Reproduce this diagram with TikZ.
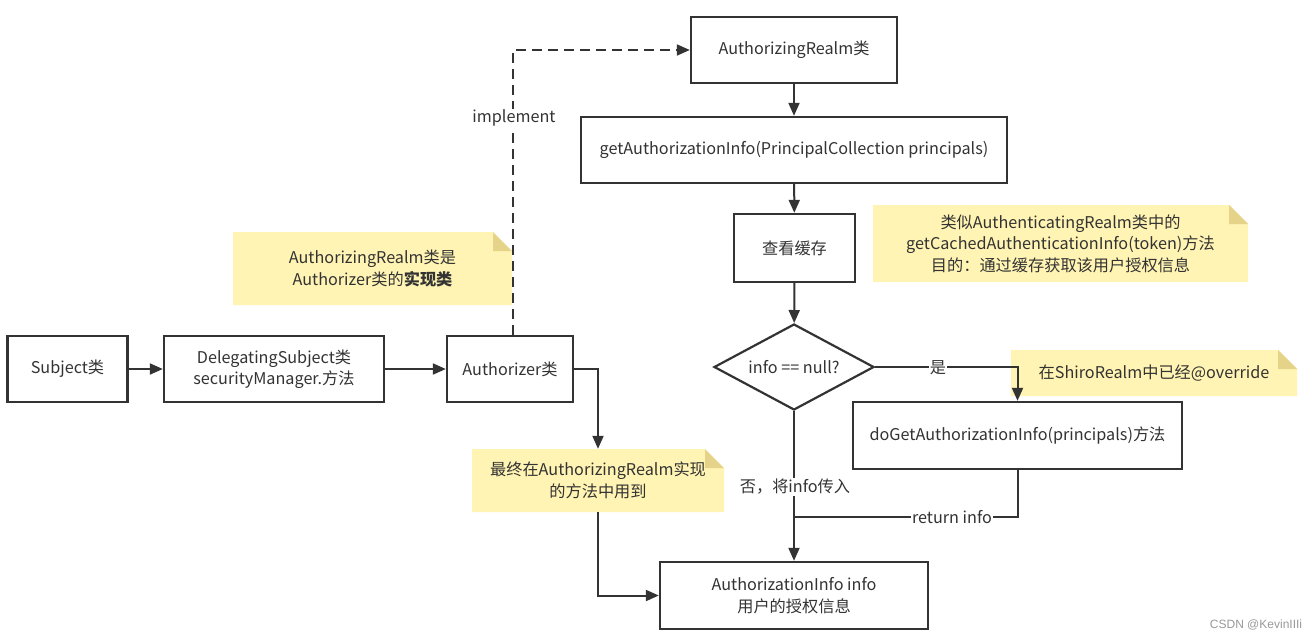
\documentclass[tikz,border=0pt]{standalone}
\usepackage{fontspec}
\setmainfont{Noto Sans CJK SC}
\newfontfamily\wmfont{Liberation Sans}
\usetikzlibrary{arrows.meta,shapes.geometric}
\definecolor{lc}{HTML}{333333}
\definecolor{tc}{HTML}{333333}
\definecolor{notefill}{HTML}{FFF4B3}
\definecolor{notefold}{HTML}{E6D38A}
\begin{document}
\begin{tikzpicture}[x=1pt,y=-1pt,
  every node/.style={font=\fontsize{16.2}{21.5}\selectfont, text=tc},
  box/.style={draw=lc, line width=2.4pt, fill=white, align=center, inner sep=0pt},
  note/.style={rectangle, inner sep=0pt, align=center,
    path picture={
      \fill[notefill] (path picture bounding box.south west) -- (path picture bounding box.north west)
        -- ([xshift=-19pt]path picture bounding box.north east) -- ([yshift=-19pt]path picture bounding box.north east)
        -- (path picture bounding box.south east) -- cycle;
      \fill[notefold] ([xshift=-19pt]path picture bounding box.north east) -- ([xshift=-19pt,yshift=-19pt]path picture bounding box.north east)
        -- ([yshift=-19pt]path picture bounding box.north east) -- cycle;
    }},
  conn/.style={draw=lc, line width=2pt, -{Triangle[length=13pt,width=11pt]}},
  plain/.style={draw=lc, line width=2pt},
  lbl/.style={fill=white, inner sep=1pt}
]
\fill[white] (0,0) rectangle (1313,641);
\useasboundingbox (0,0) rectangle (1313,641);

% boxes
\node[box, minimum width=120pt, minimum height=66pt] (subj) at (67.5,369) {Subject类};
\node[box, minimum width=220pt, minimum height=66pt] (deleg) at (274,369) {DelegatingSubject类\\securityManager.方法};
\node[box, minimum width=126pt, minimum height=66pt] (auth) at (510,369) {Authorizer类};
\node[box, minimum width=206pt, minimum height=66pt] (realm) at (794,50) {AuthorizingRealm类};
\node[box, minimum width=426pt, minimum height=66pt] (getinfo) at (794,150) {getAuthorizationInfo(PrincipalCollection principals)};
\node[box, minimum width=121pt, minimum height=68pt] (cache) at (794.5,248) {查看缓存};
\node[draw=lc, line width=2.2pt, fill=white, diamond, aspect=1.86, inner sep=0pt,
      minimum width=160pt, minimum height=86pt] (dec) at (794,367) {info == null?};
\node[box, minimum width=329pt, minimum height=67pt] (doget) at (1017.5,435.5) {doGetAuthorizationInfo(principals)方法};
\node[box, minimum width=268pt, minimum height=67pt] (ainfo) at (794,595.5) {AuthorizationInfo info\\用户的授权信息};

% notes
\node[note, minimum width=279pt, minimum height=73pt] (noteA) at (372.5,268.5) {AuthorizingRealm类是\\Authorizer类的\textbf{实现类}};
\node[note, minimum width=375pt, minimum height=77pt] (noteB) at (1060.5,243.5) {类似AuthenticatingRealm类中的\\getCachedAuthenticationInfo(token)方法\\目的：通过缓存获取该用户授权信息};
\node[note, minimum width=286pt, minimum height=46pt] (noteC) at (1154,373) {在ShiroRealm中已经@override};
\node[note, minimum width=252pt, minimum height=63pt] (noteD) at (598,480.5) {最终在AuthorizingRealm实现\\的方法中用到};

% connectors
\draw[conn] (subj) -- (deleg);
\draw[conn] (deleg) -- (auth);
\draw[conn, dash pattern=on 10pt off 6pt] ([xshift=3pt]auth.north) |- (realm.west);
\node[lbl] (impl) at (514,118) {implement};
\draw[conn] (realm) -- (getinfo);
\draw[conn] (getinfo) -- (cache);
\draw[conn] (cache) -- (dec);
\draw[conn] (dec.east) -| (doget.north);
\node[lbl] (yes) at (938,368) {是};
\draw[conn] (dec.south) -- (ainfo.north);
\node[lbl] (no) at (795,487) {否，将info传入};
\coordinate (join) at (794,517);
\draw[plain] (doget.south) |- (join);
\node[lbl] (ret) at (952,517) {return info};
\draw[conn] (auth.east) -| (noteD.north);
\draw[conn] (noteD.south) |- (ainfo.west);

\node[text=black!40, font=\wmfont\fontsize{12}{14}\selectfont] (wm) at (1256,625) {CSDN @KevinIIIi};
\end{tikzpicture}
\end{document}
